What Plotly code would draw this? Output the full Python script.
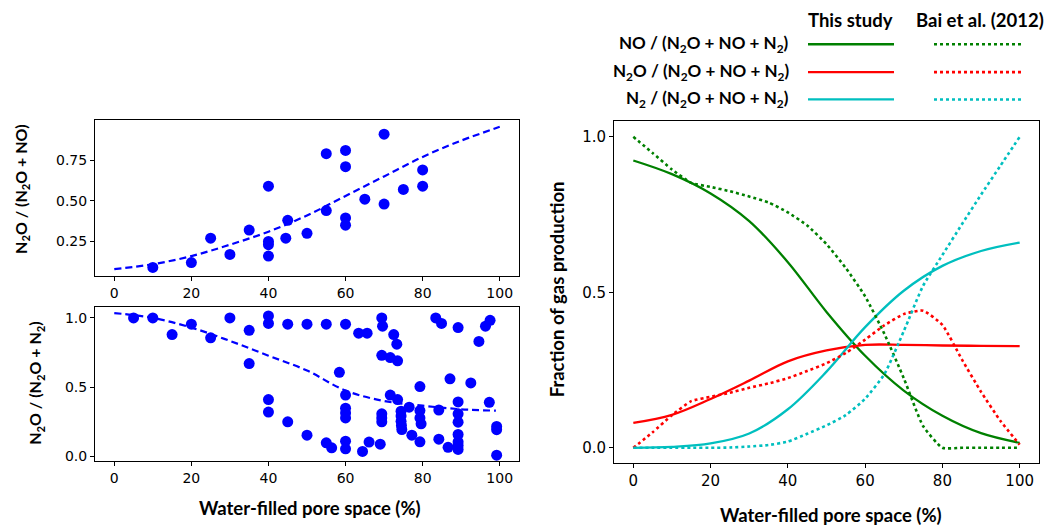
import plotly.graph_objects as go

W, H = 1046, 528

# ---------------- Top-left panel: N2O / (N2O + NO) ----------------
wfps_top = [10, 20, 25, 30, 35, 40, 40, 40, 40, 44.5, 45, 50, 55, 55, 60, 60, 60, 60, 65, 70, 70, 75, 80, 80]
ratio_top = [0.09, 0.12, 0.27, 0.17, 0.32, 0.59, 0.25, 0.23, 0.16, 0.27, 0.38, 0.30, 0.79, 0.44,
             0.81, 0.71, 0.395, 0.35, 0.51, 0.91, 0.48, 0.57, 0.69, 0.59]
fit_top_x = [0, 10, 20, 30, 40, 50, 60, 70, 80, 90, 100]
fit_top_y = [0.08, 0.11, 0.16, 0.23, 0.31, 0.41, 0.53, 0.65, 0.77, 0.87, 0.955]

# ---------------- Bottom-left panel: N2O / (N2O + N2) ----------------
wfps_bot = [5, 10, 15, 20, 25, 30, 35, 35, 40, 40, 40, 40, 45, 45, 50, 50, 55, 55, 56.4, 58.4,
            60, 60, 60, 60, 60, 60, 60, 63.4, 65.6, 64.4, 66.1, 69, 69.4, 69.6, 69.4, 69.4, 69.4, 69.4,
            71.6, 71.6, 72.5, 73.3, 73.5, 73.5, 74.4, 74.4, 74.4, 74.5, 74.6, 76.5, 77.2,
            79.3, 79.3, 79.3, 79.6, 79.3, 83.4, 84.9, 84.2, 84.2, 86.6, 87.1,
            89.2, 89.2, 89.2, 89.2, 89.2, 89.2, 89.2, 89.2, 92.5, 94.6, 96.3, 97.5, 97.3,
            99.2, 99.2, 99.2]
ratio_bot = [1.0, 1.0, 0.88, 0.955, 0.856, 1.0, 0.91, 0.67, 1.014, 0.96, 0.41, 0.32, 0.955, 0.25, 0.955, 0.153,
             0.955, 0.098, 0.062, 0.607,
             0.955, 0.443, 0.348, 0.314, 0.278, 0.11, 0.055, 0.89, 0.89, 0.036, 0.103, 0.088, 1.0, 0.94, 0.73,
             0.307, 0.278, 0.25,
             0.714, 0.443, 0.88, 0.81, 0.69, 0.41, 0.326, 0.292, 0.253, 0.223, 0.194, 0.355, 0.153,
             0.504, 0.331, 0.278, 0.235, 0.105, 1.0, 0.96, 0.335, 0.124, 0.065, 0.56,
             0.93, 0.393, 0.307, 0.247, 0.158, 0.105, 0.079, 0.05, 0.53, 0.83, 0.94, 0.983, 0.39,
             0.216, 0.193, 0.009]
fit_bot_x = [0, 10, 20, 30, 40, 50, 60, 70, 80, 90, 99]
fit_bot_y = [1.035, 1.0, 0.93, 0.834, 0.727, 0.62, 0.475, 0.40, 0.366, 0.34, 0.33]

# ---------------- Right panel: fraction of gas production ----------------
wfps_model = [0, 10, 20, 30, 40, 50, 60, 70, 80, 90, 100]
no_this = [0.924, 0.88, 0.818, 0.729, 0.597, 0.437, 0.296, 0.184, 0.103, 0.047, 0.016]
n2o_this = [0.080, 0.106, 0.157, 0.216, 0.278, 0.313, 0.331, 0.331, 0.329, 0.328, 0.327]
n2_this = [0.0, 0.003, 0.014, 0.046, 0.124, 0.245, 0.388, 0.505, 0.585, 0.633, 0.66]

wfps_bai = [0, 5, 10, 15, 20, 25, 30, 35, 40, 45, 50, 55, 60, 65, 70, 75, 80, 85, 90, 95, 100]
no_bai = [1.0, 0.948, 0.895, 0.852, 0.839, 0.825, 0.808, 0.789, 0.757, 0.715, 0.655, 0.578, 0.487, 0.366,
          0.224, 0.07, 0.0, 0.0, 0.0, 0.0, 0.0]
n2o_bai = [0.0, 0.05, 0.105, 0.15, 0.164, 0.177, 0.193, 0.207, 0.224, 0.247, 0.272, 0.305, 0.348, 0.394,
           0.43, 0.441, 0.395, 0.285, 0.18, 0.087, 0.01]
n2_bai = [0.0, 0.0, 0.0, 0.0, 0.0, 0.001, 0.004, 0.009, 0.02, 0.045, 0.072, 0.105, 0.158, 0.237,
          0.375, 0.521, 0.62, 0.718, 0.814, 0.907, 1.0]

x_ticks = [0, 20, 40, 60, 80, 100]

GREEN, RED, CYAN, BLUE = "#008000", "#ff0000", "#00bfbf", "#0000ff"
TICK_FONT = dict(family="DejaVu Sans", size=14, color="black")
TITLE_FONT = "Lato"


def px(x):
    return x / W


def py(y):
    return 1 - y / H


fig = go.Figure()

dash_fit = "7px,4px"
# top-left
fig.add_trace(go.Scatter(x=fit_top_x, y=fit_top_y, mode="lines",
                         line=dict(color=BLUE, width=2.2, dash=dash_fit, shape="spline"),
                         xaxis="x", yaxis="y", showlegend=False))
fig.add_trace(go.Scatter(x=wfps_top, y=ratio_top, mode="markers", marker=dict(color=BLUE, size=11),
                         xaxis="x", yaxis="y", showlegend=False))
# bottom-left
fig.add_trace(go.Scatter(x=fit_bot_x, y=fit_bot_y, mode="lines",
                         line=dict(color=BLUE, width=2.2, dash=dash_fit, shape="spline"),
                         xaxis="x2", yaxis="y2", showlegend=False))
fig.add_trace(go.Scatter(x=wfps_bot, y=ratio_bot, mode="markers", marker=dict(color=BLUE, size=11),
                         xaxis="x2", yaxis="y2", showlegend=False))
# right
for ys, col in [(no_this, GREEN), (n2o_this, RED), (n2_this, CYAN)]:
    fig.add_trace(go.Scatter(x=wfps_model, y=ys, mode="lines", line=dict(color=col, width=2.3, shape="spline"),
                             xaxis="x3", yaxis="y3", showlegend=False))
for ys, col in [(no_bai, GREEN), (n2o_bai, RED), (n2_bai, CYAN)]:
    fig.add_trace(go.Scatter(x=wfps_bai, y=ys, mode="lines",
                             line=dict(color=col, width=2.6, dash="dot", shape="spline", smoothing=0.5),
                             xaxis="x3", yaxis="y3", showlegend=False))

axis_common = dict(showline=True, mirror=True, linecolor="black", linewidth=1, ticks="outside", ticklen=4,
                   tickcolor="black", tickwidth=1, showgrid=False, zeroline=False, tickfont=TICK_FONT)

fig.update_layout(
    width=W, height=H, margin=dict(l=0, r=0, t=0, b=0),
    paper_bgcolor="white", plot_bgcolor="white",
    xaxis=dict(domain=[px(95), px(519)], range=[-5, 105], tickvals=x_ticks, anchor="y", **axis_common),
    yaxis=dict(domain=[py(278), py(121)], range=[0.035, 0.995], tickvals=[0.25, 0.5, 0.75],
               ticktext=["0.25", "0.50", "0.75"], anchor="x", **axis_common),
    xaxis2=dict(domain=[px(95), px(519)], range=[-5, 105], tickvals=x_ticks, anchor="y2", **axis_common),
    yaxis2=dict(domain=[py(464), py(309)], range=[-0.036, 1.077], tickvals=[0, 0.5, 1.0],
                ticktext=["0.0", "0.5", "1.0"], anchor="x2", **axis_common),
    xaxis3=dict(domain=[px(614), px(1039)], range=[-5, 105], tickvals=x_ticks, anchor="y3", **axis_common),
    yaxis3=dict(domain=[py(466), py(122)], range=[-0.05, 1.05], tickvals=[0, 0.5, 1.0],
                ticktext=["0.0", "0.5", "1.0"], anchor="x3", **axis_common),
)
fig.layout.xaxis3.tickfont.size = 15
fig.layout.yaxis3.tickfont.size = 15

annots = []


def ann(text, x, y, size=16, angle=0, xanchor="center", yanchor="middle"):
    annots.append(dict(text=text, x=px(x), y=py(y), xref="paper", yref="paper", showarrow=False,
                       textangle=angle, xanchor=xanchor, yanchor=yanchor,
                       font=dict(family=TITLE_FONT, size=size, color="black")))


ann("<b>N<sub>2</sub>O / (N<sub>2</sub>O + NO)</b>", 22, 190, size=16, angle=-90)
ann("<b>N<sub>2</sub>O / (N<sub>2</sub>O + N<sub>2</sub>)</b>", 36, 386, size=16, angle=-90)
ann("<b>Water-filled pore space (%)</b>", 309.5, 511, size=18.5)
ann("<b>Fraction of gas production</b>", 557, 291, size=18.5, angle=-90)
ann("<b>Water-filled pore space (%)</b>", 831, 518, size=18.5)

# legend table
ann("<b>This study</b>", 850.5, 20, size=18.5)
ann("<b>Bai et al. (2012)</b>", 980, 20, size=18.5)
row_labels = ["<b>NO / (N<sub>2</sub>O + NO + N<sub>2</sub>)</b>",
              "<b>N<sub>2</sub>O / (N<sub>2</sub>O + NO + N<sub>2</sub>)</b>",
              "<b>N<sub>2</sub> / (N<sub>2</sub>O + NO + N<sub>2</sub>)</b>"]
row_y = [44.5, 72.5, 100]
row_colors = [GREEN, RED, CYAN]
shapes = []
for lab, yy, col in zip(row_labels, row_y, row_colors):
    ann(lab, 791, yy, size=17, xanchor="right")
    shapes.append(dict(type="line", xref="paper", yref="paper", x0=px(808), x1=px(894), y0=py(yy), y1=py(yy),
                       line=dict(color=col, width=2.3)))
    shapes.append(dict(type="line", xref="paper", yref="paper", x0=px(934), x1=px(1021), y0=py(yy), y1=py(yy),
                       line=dict(color=col, width=2.6, dash="dot")))

fig.update_layout(annotations=annots, shapes=shapes)
fig.write_html("out.html", config={"displayModeBar": False},
               post_script="document.body.style.margin='0';document.body.style.overflow='hidden';")
